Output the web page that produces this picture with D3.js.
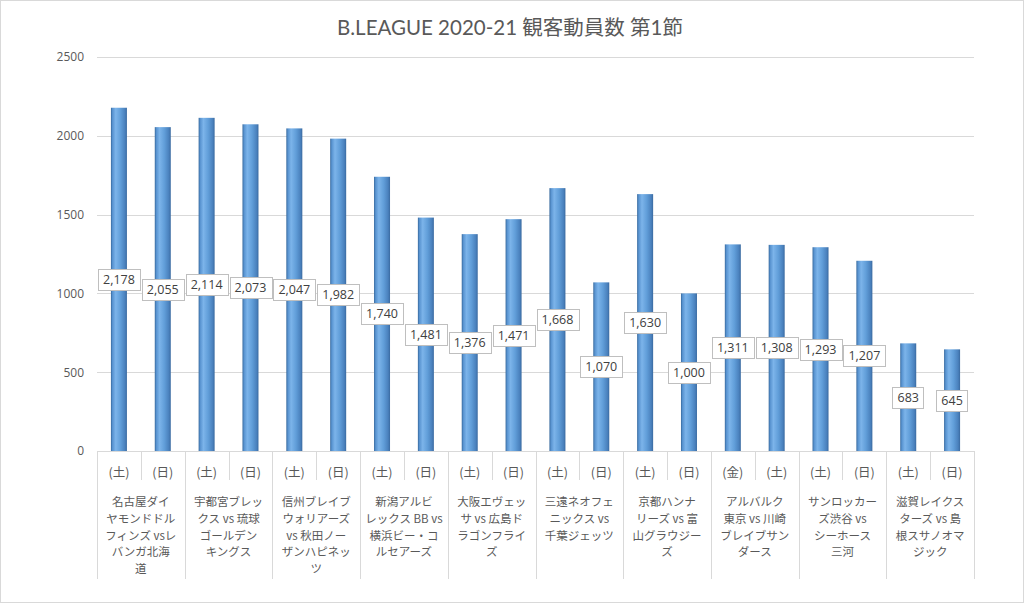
<!DOCTYPE html>
<html><head><meta charset="utf-8">
<script src="https://cdn.jsdelivr.net/npm/d3@7/dist/d3.min.js"></script>
<style>
html,body{margin:0;padding:0;background:#fff;}
svg{display:block;}
</style></head>
<body>
<svg id="chart" width="1024" height="604"></svg>
<script>
const title = "B.LEAGUE 2020-21 観客動員数 第1節";
const groups = [
  ["名古屋ダイ","ヤモンドドル","フィンズ vsレ","バンガ北海","道"],
  ["宇都宮ブレッ","クス vs 琉球","ゴールデン","キングス"],
  ["信州ブレイブ","ウォリアーズ","vs 秋田ノー","ザンハピネッ","ツ"],
  ["新潟アルビ","レックス BB vs","横浜ビー・コ","ルセアーズ"],
  ["大阪エヴェッ","サ vs 広島ド","ラゴンフライ","ズ"],
  ["三遠ネオフェ","ニックス vs","千葉ジェッツ"],
  ["京都ハンナ","リーズ vs 富","山グラウジー","ズ"],
  ["アルバルク","東京 vs 川崎","ブレイブサン","ダース"],
  ["サンロッカー","ズ渋谷 vs","シーホース","三河"],
  ["滋賀レイクス","ターズ vs 島","根スサノオマ","ジック"]
];
const days = [
  ["(土)","(日)"],["(土)","(日)"],["(土)","(日)"],["(土)","(日)"],["(土)","(日)"],
  ["(土)","(日)"],["(土)","(日)"],["(金)","(土)"],["(土)","(日)"],["(土)","(日)"]
];
const values = [
  [2178,2055],[2114,2073],[2047,1982],[1740,1481],[1376,1471],
  [1668,1070],[1630,1000],[1311,1308],[1293,1207],[683,645]
];
const yTicks = [0,500,1000,1500,2000,2500];

(function(){
const svg = d3.select("#chart");
const W = 1024, H = 604;
const mLeft = 97, mRight = 974, mTop = 57, mBottom = 451;

svg.append("rect").attr("x",0.5).attr("y",0.5).attr("width",W-1).attr("height",H-2)
  .attr("fill","#fff").attr("stroke","#d9d9d9");

const defs = svg.append("defs");
const grad = defs.append("linearGradient").attr("id","barGrad").attr("x1","0").attr("x2","1").attr("y1","0").attr("y2","0");
[["0%","#36689c"],["10%","#5893d0"],["30%","#7cb4ea"],["60%","#619ed9"],["88%","#4a81bd"],["100%","#3a6aa0"]]
  .forEach(([o,c])=>grad.append("stop").attr("offset",o).attr("stop-color",c));

const y = d3.scaleLinear().domain([0,2500]).range([mBottom, mTop]);
const x0 = d3.scaleBand().domain(d3.range(groups.length)).range([mLeft,mRight]).paddingInner(0).paddingOuter(0);
const x1 = d3.scaleBand().domain([0,1]).range([0,x0.bandwidth()]).paddingInner(0);
const barW = 16;

svg.append("g").selectAll("line").data(yTicks.filter(d=>d>0)).join("line")
  .attr("x1",mLeft).attr("x2",mRight).attr("y1",d=>Math.round(y(d))+0.5).attr("y2",d=>Math.round(y(d))+0.5)
  .attr("stroke","#d9d9d9").attr("stroke-width",1);

const yAxis = d3.axisLeft(y).tickValues(yTicks).tickSize(0).tickPadding(0).tickFormat(d3.format("d"));
const ya = svg.append("g").attr("transform",`translate(${mLeft-13},0)`).call(yAxis);
ya.select(".domain").remove();
ya.selectAll("text").attr("fill","#595959").style("font-family","'Open Sans','Noto Sans',sans-serif").style("font-size","12px");

const flat = [];
values.forEach((pair,g)=>pair.forEach((v,i)=>flat.push({g,i,v})));
svg.append("g").selectAll("rect").data(flat).join("rect")
  .attr("x",d=>x0(d.g)+x1(d.i)+x1.bandwidth()/2-barW/2)
  .attr("y",d=>y(d.v)).attr("width",barW).attr("height",d=>y(0)-y(d.v))
  .attr("fill","url(#barGrad)");

const ax = svg.append("g").attr("stroke","#d9d9d9").attr("stroke-width",1);
ax.append("line").attr("x1",mLeft).attr("x2",mRight).attr("y1",mBottom+0.5).attr("y2",mBottom+0.5);
d3.range(groups.length+1).forEach(g=>{
  const xx = Math.round(g<groups.length?x0(g):mRight)+0.5;
  ax.append("line").attr("x1",xx).attr("x2",xx).attr("y1",mBottom).attr("y2",579);
});
d3.range(groups.length).forEach(g=>{
  const xx = Math.round(x0(g)+x1(1))+0.5;
  ax.append("line").attr("x1",xx).attr("x2",xx).attr("y1",mBottom).attr("y2",480);
});

const jp = "'Noto Sans CJK JP','Noto Sans',sans-serif";
svg.append("g").selectAll("text").data(flat).join("text")
  .attr("x",d=>x0(d.g)+x1(d.i)+x1.bandwidth()/2).attr("y",477)
  .attr("text-anchor","middle").attr("fill","#595959")
  .style("font-family",jp).style("font-size","12.5px")
  .text(d=>days[d.g][d.i]);

const gl = svg.append("g");
groups.forEach((lines,g)=>{
  lines.forEach((ln,k)=>{
    gl.append("text").attr("x",x0(g)+x0.bandwidth()/2).attr("y",506+k*16.8)
      .attr("text-anchor","middle").attr("fill","#595959")
      .style("font-family",jp).style("font-size","11.5px").text(ln);
  });
});

const fmt = d3.format(",");
const lab = svg.append("g");
flat.forEach(d=>{
  const cx = x0(d.g)+x1(d.i)+x1.bandwidth()/2;
  const cy = y(d.v/2);
  const t = lab.append("text").attr("x",cx).attr("y",cy+4.5).attr("text-anchor","middle")
    .attr("fill","#404040").style("font-family","'Open Sans','Noto Sans',sans-serif").style("font-size","12.5px")
    .text(fmt(d.v));
  const w = t.node().getComputedTextLength()+10;
  lab.insert("rect","text").attr("x",Math.round(cx-w/2)+0.5).attr("y",Math.round(cy-10.5)+0.5)
    .attr("width",Math.round(w)).attr("height",21).attr("fill","#fff").attr("stroke","#bfbfbf");
});
lab.selectAll("text").raise();

svg.append("text").attr("x",510).attr("y",35).attr("text-anchor","middle")
  .attr("fill","#595959").style("font-family","Lato,'Noto Sans CJK JP',sans-serif").style("font-size","20.5px")
  .text(title);
})();
</script>
</body></html>
